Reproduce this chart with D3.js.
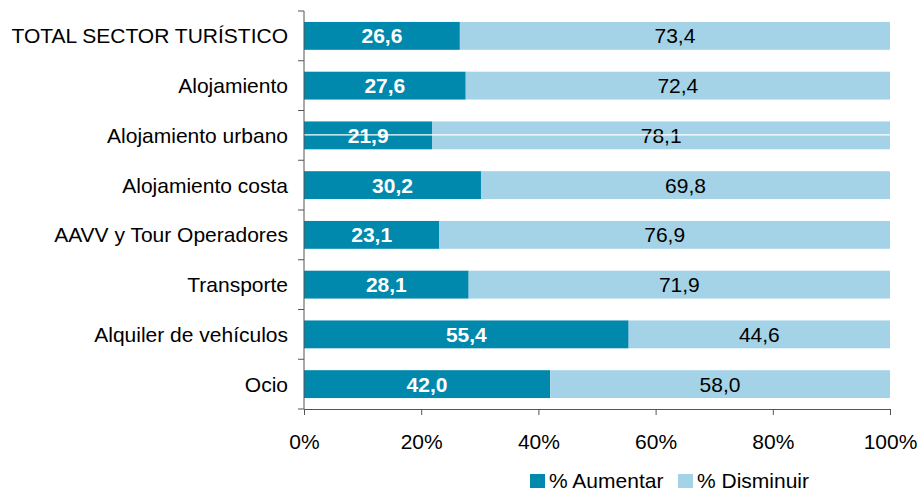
<!doctype html>
<html lang="es">
<head>
<meta charset="utf-8">
<script src="https://cdn.jsdelivr.net/npm/d3@7"></script>
<style>
  body { margin: 0; background: #fff; }
  svg { display: block; font-family: "Liberation Sans", Arial, sans-serif; }
</style>
</head>
<body>
<svg id="chart" width="920" height="491"></svg>
<script>
const categories = [
  "TOTAL SECTOR TURÍSTICO", "Alojamiento", "Alojamiento urbano", "Alojamiento costa",
  "AAVV y Tour Operadores", "Transporte", "Alquiler de vehículos", "Ocio"
];
const aumentar = [26.6, 27.6, 21.9, 30.2, 23.1, 28.1, 55.4, 42.0];
const disminuir = [73.4, 72.4, 78.1, 69.8, 76.9, 71.9, 44.6, 58.0];
const seriesNames = ["% Aumentar", "% Disminuir"];
const xTicks = [0, 20, 40, 60, 80, 100];

const colors = ["#0088ad", "#a4d3e8"];
const fmt = v => v.toFixed(1).replace(".", ",");
const FS = 21;

const svg = d3.select("#chart");
const m = { left: 304, right: 30, top: 11, bottom: 82 };
const W = 920, H = 491;

const x = d3.scaleLinear().domain([0, 100]).range([m.left, W - m.right]);
const y = d3.scaleBand().domain(categories).range([m.top, H - m.bottom]).paddingInner(0.44).paddingOuter(0.22);

const rows = categories.map((c, i) => ({ cat: c, a: aumentar[i], d: disminuir[i] }));

// bars
const g = svg.append("g");
rows.forEach(r => {
  const segs = [
    { start: 0, val: r.a, col: colors[0], bold: true, txt: "#fff" },
    { start: r.a, val: r.d, col: colors[1], bold: false, txt: "#000" }
  ];
  segs.forEach(s => {
    g.append("rect")
      .attr("x", x(s.start)).attr("y", y(r.cat))
      .attr("width", x(s.start + s.val) - x(s.start))
      .attr("height", y.bandwidth())
      .attr("fill", s.col);
    g.append("text")
      .attr("x", (x(s.start) + x(s.start + s.val)) / 2)
      .attr("y", y(r.cat) + y.bandwidth() / 2 + 7.5)
      .attr("text-anchor", "middle")
      .attr("font-size", FS)
      .attr("font-weight", s.bold ? "bold" : "normal")
      .attr("fill", s.txt)
      .text(fmt(s.val));
  });
});

// stray white rule across the "Alojamiento urbano" bar, as in the source image
g.append("line")
  .attr("x1", x(0)).attr("x2", x(100))
  .attr("y1", y("Alojamiento urbano") + y.bandwidth() / 2 - 0.5)
  .attr("y2", y("Alojamiento urbano") + y.bandwidth() / 2 - 0.5)
  .attr("stroke", "#fff").attr("stroke-width", 1.2);

// y axis: ticks at band boundaries
const yAxisG = svg.append("g");
yAxisG.append("line")
  .attr("x1", x(0)).attr("x2", x(0))
  .attr("y1", m.top).attr("y2", H - m.bottom)
  .attr("stroke", "#555");
d3.range(categories.length + 1).forEach(i => {
  const yy = m.top + i * (H - m.bottom - m.top) / categories.length;
  yAxisG.append("line")
    .attr("x1", x(0) - 6).attr("x2", x(0))
    .attr("y1", yy).attr("y2", yy)
    .attr("stroke", "#555");
});
rows.forEach(r => {
  yAxisG.append("text")
    .attr("x", x(0) - 16)
    .attr("y", y(r.cat) + y.bandwidth() / 2 + 7.5)
    .attr("text-anchor", "end")
    .attr("font-size", FS)
    .attr("fill", "#000")
    .text(r.cat);
});

// x axis
const xAxis = d3.axisBottom(x).tickValues(xTicks).tickSize(6).tickFormat(d => d + "%");
const xg = svg.append("g")
  .attr("transform", `translate(0,${H - m.bottom})`)
  .call(xAxis);
xg.select(".domain").attr("stroke", "#555");
xg.selectAll(".tick line").attr("stroke", "#555");
xg.selectAll(".tick text")
  .attr("font-size", FS).attr("fill", "#000")
  .attr("font-family", "Liberation Sans, Arial, sans-serif")
  .attr("y", 40).attr("dy", null);

// legend
const legend = svg.append("g").attr("transform", "translate(530,474)");
const legX = [0, 148];
seriesNames.forEach((n, i) => {
  legend.append("rect")
    .attr("x", legX[i]).attr("y", 0)
    .attr("width", 15).attr("height", 14)
    .attr("fill", colors[i]);
  legend.append("text")
    .attr("x", legX[i] + 19).attr("y", 14)
    .attr("font-size", FS).attr("fill", "#000")
    .text(n);
});
</script>
</body>
</html>
